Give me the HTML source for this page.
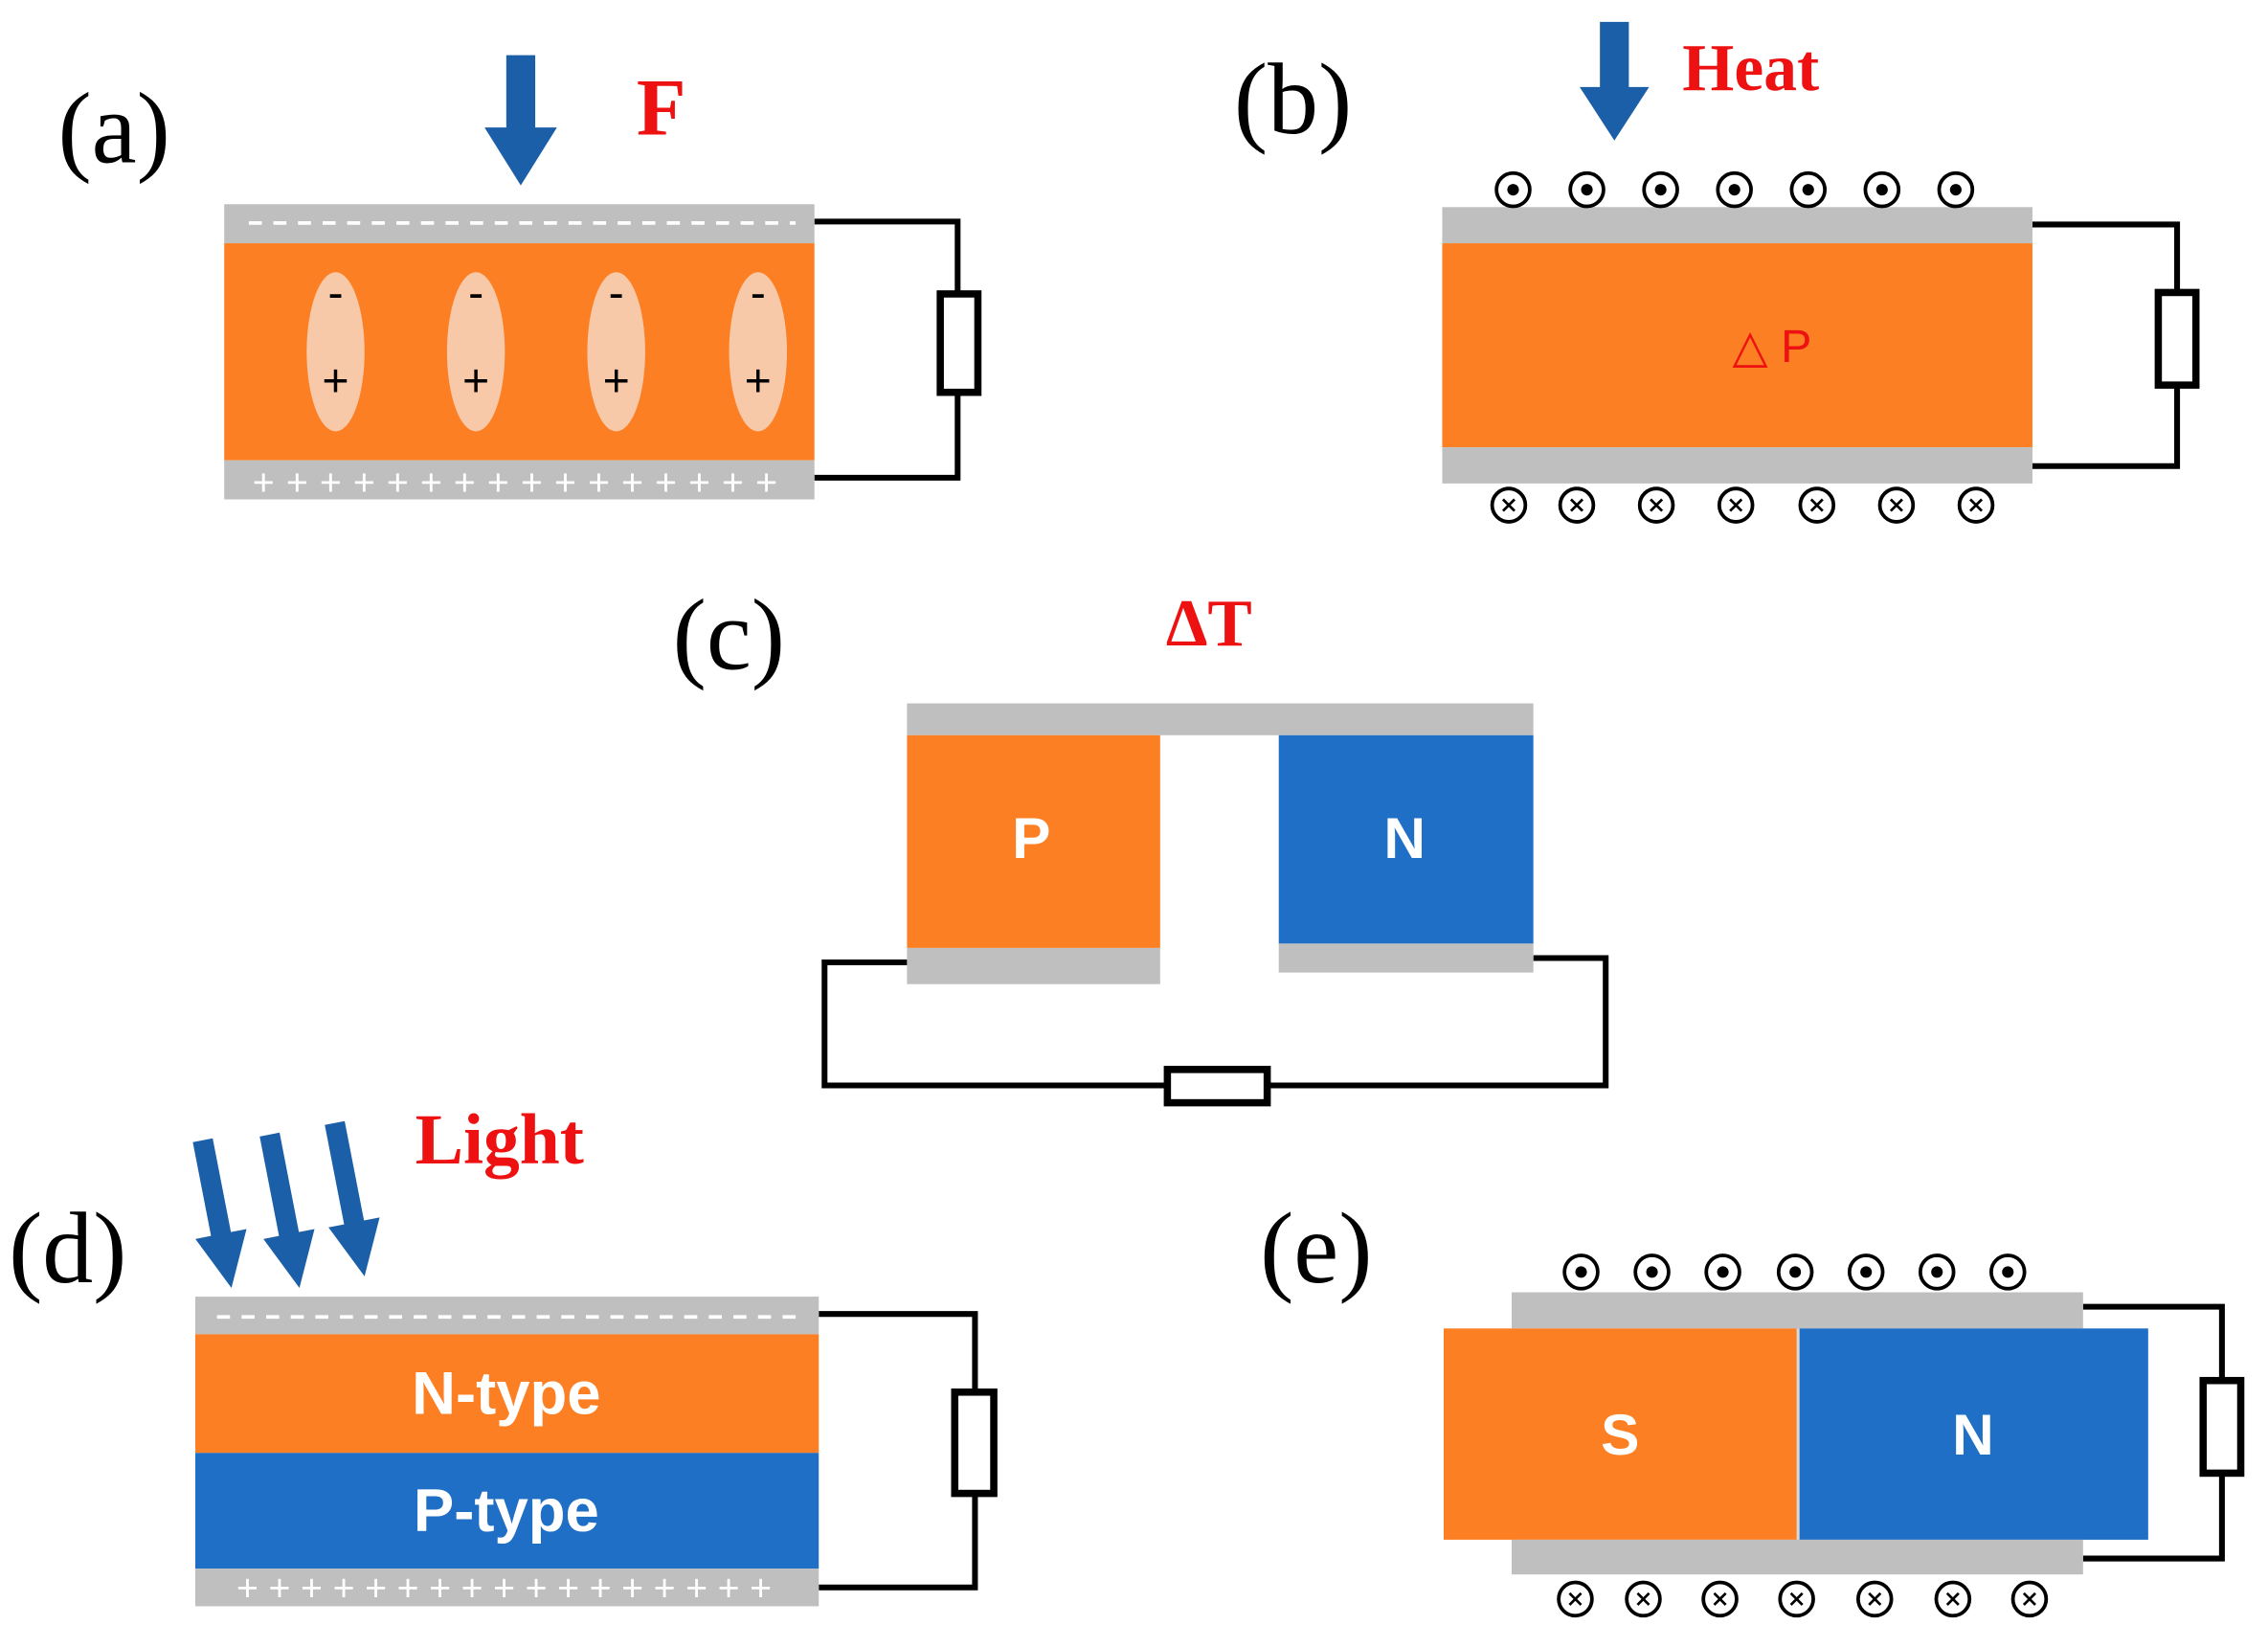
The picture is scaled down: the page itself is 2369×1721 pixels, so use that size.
<!DOCTYPE html>
<html><head><meta charset="utf-8"><style>html,body{margin:0;padding:0;background:#fff}svg{display:block}</style></head>
<body>
<svg width="2369" height="1721" viewBox="0 0 1560 1133" xmlns="http://www.w3.org/2000/svg">
<defs>
<g id="dot"><circle r="11.5" fill="#fff" stroke="#000" stroke-width="2.5"/><circle r="4" fill="#000"/></g>
<g id="xx"><circle r="11.5" fill="#fff" stroke="#000" stroke-width="2.5"/><path d="M-4,-4 L4,4 M4,-4 L-4,4" stroke="#000" stroke-width="1.8"/></g>
</defs>
<g transform="scale(0.995)">
<g font-family="Liberation Serif, serif" font-size="70" fill="#000">
<text x="40" y="112">(a)</text>
<text x="853" y="92">(b)</text>
<text x="465" y="462">(c)</text>
<text x="6" y="886">(d)</text>
<text x="871" y="886">(e)</text>
</g>
<g font-family="Liberation Serif, serif" font-weight="bold" fill="#ee1111">
<text x="440" y="93" font-size="56">F</text>
<text x="1163" y="62" font-size="46">Heat</text>
<text x="806" y="446" font-size="46">ΔT</text>
<text x="287" y="804" font-size="50">Light</text>
</g>
<g fill="#1c5fa9">
<polygon points="350,38 370,38 370,88 385,88 360,128 335,88 350,88"/>
<polygon points="1106,15 1126,15 1126,60 1140,60 1116,97 1092,60 1106,60"/>
<g transform="translate(160,890) rotate(-11)"><polygon points="-7,-104 7,-104 7,-38 18,-38 0,0 -18,-38 -7,-38"/></g>
<g transform="translate(207,890) rotate(-11)"><polygon points="-7,-108 7,-108 7,-38 18,-38 0,0 -18,-38 -7,-38"/></g>
<g transform="translate(252,882) rotate(-11)"><polygon points="-7,-108 7,-108 7,-38 18,-38 0,0 -18,-38 -7,-38"/></g>
</g>
<g fill="none" stroke="#000" stroke-width="4">
<polyline points="563,153 662,153 662,330 563,330"/>
<polyline points="1405,155 1505,155 1505,322 1405,322"/>
<polyline points="627,665 570,665 570,750 1110,750 1110,662 1060,662"/>
<polyline points="566,908 674,908 674,1097 566,1097"/>
<polyline points="1440,903 1536,903 1536,1077 1440,1077"/>
</g>
<rect x="155" y="141" width="408" height="27" fill="#bfbfbf"/>
<line x1="172" y1="154" x2="550" y2="154" stroke="#fff" stroke-width="2.5" stroke-dasharray="9,8"/>
<rect x="155" y="168" width="408" height="150" fill="#fd7f23"/>
<rect x="155" y="318" width="408" height="27" fill="#bfbfbf"/>
<text x="360" y="342" text-anchor="middle" font-family="Liberation Sans, sans-serif" font-size="26" fill="#fff" letter-spacing="8">++++++++++++++++</text>
<g fill="#f8c9a9">
<ellipse cx="232" cy="243" rx="20" ry="55"/><ellipse cx="329" cy="243" rx="20" ry="55"/><ellipse cx="426" cy="243" rx="20" ry="55"/><ellipse cx="524" cy="243" rx="20" ry="55"/>
</g>
<g font-family="Liberation Sans, sans-serif" font-size="32" text-anchor="middle" fill="#000">
<text x="232" y="213">-</text><text x="329" y="213">-</text><text x="426" y="213">-</text><text x="524" y="213">-</text>
<text x="232" y="274">+</text><text x="329" y="274">+</text><text x="426" y="274">+</text><text x="524" y="274">+</text>
</g>
<rect x="650" y="203" width="26" height="68" fill="#fff" stroke="#000" stroke-width="5"/>
<rect x="997" y="143" width="408" height="25" fill="#bfbfbf"/>
<rect x="997" y="168" width="408" height="141" fill="#fd7f23"/>
<rect x="997" y="309" width="408" height="25" fill="#bfbfbf"/>
<text x="1225" y="250" text-anchor="middle" font-family="Liberation Sans, DejaVu Sans, sans-serif" font-size="32" fill="#ee1111">△ P</text>
<rect x="1492" y="202" width="26" height="64" fill="#fff" stroke="#000" stroke-width="5"/>
<use href="#dot" x="1046" y="131"/><use href="#dot" x="1097" y="131"/><use href="#dot" x="1148" y="131"/><use href="#dot" x="1199" y="131"/><use href="#dot" x="1250" y="131"/><use href="#dot" x="1301" y="131"/><use href="#dot" x="1352" y="131"/>
<use href="#xx" x="1043" y="349"/><use href="#xx" x="1090" y="349"/><use href="#xx" x="1145" y="349"/><use href="#xx" x="1200" y="349"/><use href="#xx" x="1256" y="349"/><use href="#xx" x="1311" y="349"/><use href="#xx" x="1366" y="349"/>
<rect x="627" y="486" width="433" height="22" fill="#bfbfbf"/>
<rect x="627" y="508" width="175" height="147" fill="#fd7f23"/>
<rect x="627" y="655" width="175" height="25" fill="#bfbfbf"/>
<rect x="884" y="508" width="176" height="144" fill="#1f6fc6"/>
<rect x="884" y="652" width="176" height="20" fill="#bfbfbf"/>
<g font-family="Liberation Sans, sans-serif" font-weight="bold" font-size="40" fill="#fff" text-anchor="middle">
<text x="713" y="593">P</text><text x="971" y="593">N</text>
</g>
<rect x="807" y="739" width="69" height="23" fill="#fff" stroke="#000" stroke-width="5"/>
<rect x="135" y="896" width="431" height="26" fill="#bfbfbf"/>
<line x1="150" y1="910" x2="555" y2="910" stroke="#fff" stroke-width="2.5" stroke-dasharray="9,8"/>
<rect x="135" y="922" width="431" height="82" fill="#fd7f23"/>
<rect x="135" y="1004" width="431" height="80" fill="#1f6fc6"/>
<rect x="135" y="1084" width="431" height="26" fill="#bfbfbf"/>
<text x="352" y="1106" text-anchor="middle" font-family="Liberation Sans, sans-serif" font-size="26" fill="#fff" letter-spacing="7">+++++++++++++++++</text>
<g font-family="Liberation Sans, sans-serif" font-weight="bold" font-size="42" fill="#fff" text-anchor="middle">
<text x="350" y="977">N-type</text><text x="350" y="1058">P-type</text>
</g>
<rect x="660" y="962" width="27" height="70" fill="#fff" stroke="#000" stroke-width="5"/>
<rect x="1045" y="893" width="395" height="25" fill="#bfbfbf"/>
<rect x="998" y="918" width="245" height="146" fill="#fd7f23"/>
<rect x="1243" y="918" width="242" height="146" fill="#1f6fc6"/>
<line x1="1243" y1="918" x2="1243" y2="1064" stroke="#d9d9d9" stroke-width="2"/>
<rect x="1045" y="1064" width="395" height="24" fill="#bfbfbf"/>
<g font-family="Liberation Sans, sans-serif" font-weight="bold" font-size="40" fill="#fff" text-anchor="middle">
<text x="1120" y="1005">S</text><text x="1364" y="1005">N</text>
</g>
<rect x="1523" y="954" width="26" height="64" fill="#fff" stroke="#000" stroke-width="5"/>
<use href="#dot" x="1093" y="879"/><use href="#dot" x="1142" y="879"/><use href="#dot" x="1191" y="879"/><use href="#dot" x="1241" y="879"/><use href="#dot" x="1290" y="879"/><use href="#dot" x="1339" y="879"/><use href="#dot" x="1388" y="879"/>
<use href="#xx" x="1089" y="1105"/><use href="#xx" x="1136" y="1105"/><use href="#xx" x="1189" y="1105"/><use href="#xx" x="1242" y="1105"/><use href="#xx" x="1296" y="1105"/><use href="#xx" x="1350" y="1105"/><use href="#xx" x="1403" y="1105"/>
</g>
</svg>
</body></html>
